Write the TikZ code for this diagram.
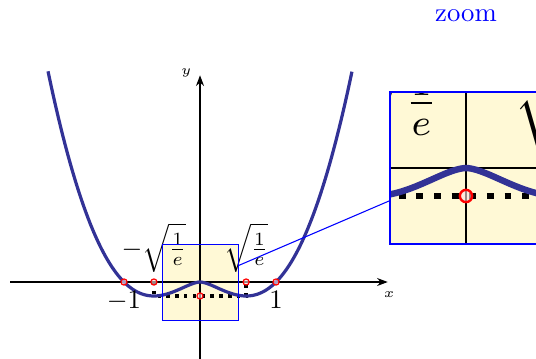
\documentclass[tikz,border=0pt]{standalone}
\usetikzlibrary{spy,arrows.meta}
\definecolor{boxyellow}{RGB}{255,249,214}
\definecolor{curveblue}{RGB}{50,50,150}
\begin{document}
\begin{tikzpicture}[
  axis/.style={-{Stealth[length=4pt,width=3pt]}, line width=0.4pt},
  pt/.style={circle, draw=red, fill=red!12, fill opacity=0.6, draw opacity=1, inner sep=0pt, minimum size=2.3pt, line width=0.45pt},
  mindot/.style={line width=1.3pt, dotted},
  curvestyle/.style={curveblue, line width=1.2pt},
  lab/.style={font=\normalsize, inner sep=2pt, text opacity=1},
  axlab/.style={font=\tiny, inner sep=0pt},
]
\begin{scope}[spy using outlines={blue, magnification=2, size=2cm, connect spies}]
\fill[boxyellow] (-0.5,-0.5) rectangle (0.5,0.5);
% axes
\coordinate (xl) at (-2.5,0);
\coordinate (xr) at (2.47,0);
\coordinate (yb) at (0,-1.05);
\coordinate (yt) at (0,2.72);
\draw[axis] (xl) -- (xr);
\draw[axis] (yb) -- (yt);
\node[axlab] (xlab) at ([shift={(0.02,-0.16)}]xr) {$x$};
\node[axlab] (ylab) at ([shift={(-0.18,0.03)}]yt) {$y$};
% minimum guides
\coordinate (mA) at (-0.6065,-0.1839);
\coordinate (mB) at (0.6065,-0.1839);
\coordinate (aA) at (-0.6065,0);
\coordinate (aB) at (0.6065,0);
\draw[mindot] (aA) -- (mA) -- (mB) -- (aB);
% curve
\draw[curvestyle] plot[domain=-2:2, samples=241, smooth] (\x, {\x*\x*ln(abs(\x)+0.0001)});
% points
\node[pt, label={[lab]below:$-1$}] (p1) at (-1,0) {};
\node[pt, label={[lab]above:$-\sqrt{\frac{1}{e}}$}] (p2) at (aA) {};
\node[pt, label={[lab]above:$\sqrt{\frac{1}{e}}$}] (p3) at (aB) {};
\node[pt, label={[lab]below:$1$}] (p4) at (1,0) {};
\node[pt] (p5) at (0,-0.1839) {};
\node[blue, font=\normalsize] (zoomlab) at (3.5,3.5) {zoom};
\spy on (0,0) in node[fill=boxyellow] (zoomed) at (3.5,1.5);
\end{scope}
\pgfresetboundingbox
\useasboundingbox (-2.632,-1.0) rectangle (4.421,3.711);
\end{tikzpicture}
\end{document}
